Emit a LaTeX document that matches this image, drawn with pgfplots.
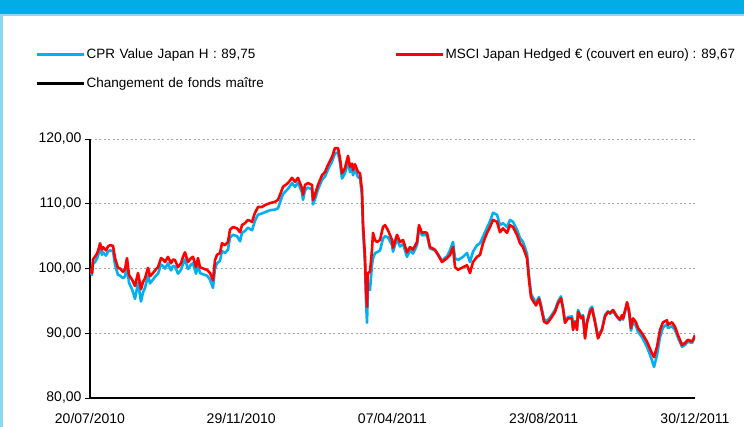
\documentclass[border=0pt]{standalone}
\usepackage{pgfplots}
\usepackage{pgfplotstable}
\pgfplotsset{compat=1.18}
\usepackage{fontspec}
\setmainfont{Liberation Sans}

\definecolor{cprblue}{RGB}{0,176,240}
\definecolor{mscired}{RGB}{255,0,0}
\definecolor{banner}{RGB}{0,174,230}
\definecolor{panelframe}{RGB}{140,215,242}
\definecolor{gridgray}{RGB}{165,165,165}

% t: position along the period (0 = 20/07/2010, 605 = 30/12/2011)
\pgfplotstableread{
t cpr msci
0 100.0 100.0
1 99.3 99.5
2 99.0 99.3
3 100.7 101.4
5 101.0 101.8
7 101.5 102.3
9 102.5 103.2
10 103.1 103.9
12 102.1 102.9
13 102.5 103.3
16 102.0 102.8
18 102.6 103.4
20 102.8 103.6
23 102.7 103.5
25 100.6 101.6
28 99.0 100.1
30 98.9 100.0
33 98.5 99.5
35 98.8 99.9
37 100.5 101.6
39 97.8 99.0
42 96.8 98.3
45 95.3 97.3
48 97.8 99.3
51 94.9 96.8
53 96.3 97.9
55 97.0 98.5
58 98.9 100.1
60 97.7 98.8
63 98.3 99.3
66 98.9 99.9
68 99.2 100.2
71 100.6 101.6
73 100.4 101.4
75 100.0 101.0
78 100.8 101.8
81 99.7 100.8
83 100.4 101.4
85 100.3 101.3
88 99.2 100.2
91 99.8 100.8
93 100.7 101.8
95 101.4 102.5
98 99.9 101.0
101 100.6 101.6
103 100.8 101.8
106 99.2 100.2
108 100.6 101.6
110 99.3 100.2
113 99.1 100.0
117 98.9 99.8
120 98.3 99.3
123 97.0 98.2
125 100.0 101.3
127 100.8 102.1
130 101.2 102.4
132 102.7 103.9
135 102.4 103.6
138 102.9 104.1
140 104.8 106.0
143 105.2 106.4
147 105.0 106.2
150 104.2 105.6
152 105.5 106.7
155 105.8 107.0
158 106.3 107.5
162 105.9 107.2
165 107.4 108.6
168 108.3 109.5
172 108.5 109.5
175 108.7 109.8
180 109.0 110.1
185 109.1 110.3
188 109.3 110.6
190 110.2 111.4
193 111.5 112.6
198 112.3 113.2
202 113.2 114.0
205 112.6 113.4
208 113.3 114.0
212 111.7 112.4
213 110.6 111.4
215 112.1 112.9
218 112.5 113.2
222 112.2 112.9
223 109.9 110.6
225 110.7 111.4
228 112.2 112.9
232 113.7 114.4
235 114.2 114.9
238 115.3 116.0
242 116.5 117.2
245 117.8 118.6
248 117.9 118.6
250 116.3 117.0
252 113.9 114.7
255 114.7 115.5
258 116.5 117.4
260 114.9 115.7
262 115.4 116.2
263 114.4 115.2
265 115.3 116.1
268 114.1 114.9
270 113.9 114.7
272 111.2 112.1
273 106.0 107.0
275 100.6 101.8
276 95.0 96.7
277 91.6 94.1
278 97.0 99.3
280 96.7 99.5
282 100.6 102.9
283 101.5 105.5
285 102.4 104.4
287 102.5 104.1
290 102.8 104.4
293 104.6 106.4
295 105.0 106.7
298 104.8 105.9
302 103.6 104.4
303 102.6 103.2
307 104.6 105.2
310 103.4 104.1
313 103.8 104.4
317 101.8 102.5
320 102.8 103.3
323 102.3 102.9
327 103.6 104.1
329 106.2 106.7
332 105.1 105.5
335 105.2 105.6
337 105.1 105.5
340 103.1 103.3
345 102.8 102.9
348 102.2 102.1
352 101.2 101.0
357 101.9 101.6
360 102.8 102.1
363 104.1 103.3
365 101.6 100.2
368 101.3 99.8
373 101.8 100.2
377 102.4 100.5
380 101.0 99.3
383 102.6 101.0
387 103.6 101.8
390 103.9 102.1
393 104.9 103.9
397 106.3 105.5
400 107.3 106.4
403 108.6 107.5
407 108.3 107.2
410 106.7 105.6
413 107.0 106.2
417 106.4 105.5
420 107.5 106.7
423 107.2 106.4
427 106.0 105.2
430 104.7 103.9
433 104.1 103.3
437 102.3 101.6
439 99.0 98.2
441 96.1 95.6
443 95.5 95.0
446 94.7 94.3
449 95.6 95.3
451 94.4 94.0
454 92.2 91.8
457 91.9 91.5
460 92.4 92.1
465 93.6 93.3
468 94.9 94.6
471 95.7 95.4
473 94.0 93.8
475 91.9 91.6
478 92.5 92.3
482 92.6 92.3
483 90.8 90.5
485 91.9 91.7
487 90.8 90.5
488 93.6 93.3
491 92.5 92.3
493 92.8 92.6
495 89.5 89.2
497 91.8 91.6
500 93.7 93.3
502 94.1 93.8
505 91.9 91.7
508 89.5 89.2
512 90.7 90.5
515 92.8 92.6
518 93.4 93.3
520 93.0 93.1
523 93.4 93.6
527 92.5 92.6
530 92.0 92.1
532 92.6 92.8
533 92.1 92.3
536 93.9 94.1
537 94.6 94.8
539 93.1 93.6
541 90.4 90.8
543 91.8 92.3
546 91.1 91.7
548 90.2 90.8
552 89.4 90.0
557 87.9 88.7
562 85.8 86.9
564 84.8 86.3
567 86.6 87.9
570 89.4 90.5
573 90.9 91.7
577 91.4 92.0
578 90.8 91.3
582 91.1 91.7
585 90.5 91.0
588 89.3 89.7
592 87.9 88.2
595 88.2 88.5
598 88.7 89.0
602 88.5 88.7
604 89.1 89.3
605 89.75 89.67
}\perfdata

\begin{document}
\begin{tikzpicture}[x=1pt,y=1pt]
\clip (0,0) rectangle (744,427);
\fill[white] (0,0) rectangle (744,427);
\fill[banner] (0,413) rectangle (744,427);
\draw[panelframe, line width=2.5pt] (1.25,-20) -- (1.25,411.75) -- (760,411.75);
\begin{axis}[
  at={(90pt,29pt)}, anchor=south west,
  scale only axis, width=605pt, height=259pt,
  xmin=0, xmax=605, ymin=80, ymax=120,
  axis x line*=bottom, axis y line*=left,
  axis line style={line width=2pt, black, -},
  xtick={0,151.25,302.5,453.75,605},
  xticklabels={20/07/2010,29/11/2010,07/04/2011,23/08/2011,30/12/2011},
  ytick={80,90,100,110,120},
  x tick style={draw=none},
  y tick style={black, line width=0.8pt},
  tickpos=left, tick align=outside, major tick length=5pt,
  ymajorgrids, major grid style={gridgray, line width=0.8pt, dash pattern=on 2pt off 2.5pt},
  tick label style={font=\fontsize{14}{16}\selectfont},
  /pgf/number format/assume math mode=true,
  yticklabel style={/pgf/number format/.cd, fixed, fixed zerofill, precision=2, use comma},
  xticklabel style={inner sep=0pt, anchor=north, yshift=-10pt},
  legend columns=2,
  legend style={draw=none, fill=none, inner sep=0pt,
    at={(axis description cs:-0.0909,1.355)}, anchor=north west,
    font=\fontsize{13.5}{16}\selectfont, row sep=15pt,
    nodes={inner sep=1.5pt, anchor=west},
    /tikz/column 2/.style={nodes={text width=306pt, align=left}}},
  legend cell align=left,
  legend image code/.code={\draw[#1, line width=3pt] (0pt,0pt) -- (47pt,0pt);},
]
\addplot[cprblue, line width=2.6pt, line join=round, mark=none] table[x=t, y=cpr] {\perfdata};
\addlegendentry{CPR Value Japan H : 89,75}
\addplot[mscired, line width=2.6pt, line join=round, mark=none] table[x=t, y=msci] {\perfdata};
\addlegendentry{MSCI Japan Hedged € (couvert en euro) : 89,67}
\addlegendimage{black, line width=3pt}
\addlegendentry{Changement de fonds maître}
\end{axis}
\end{tikzpicture}
\end{document}
